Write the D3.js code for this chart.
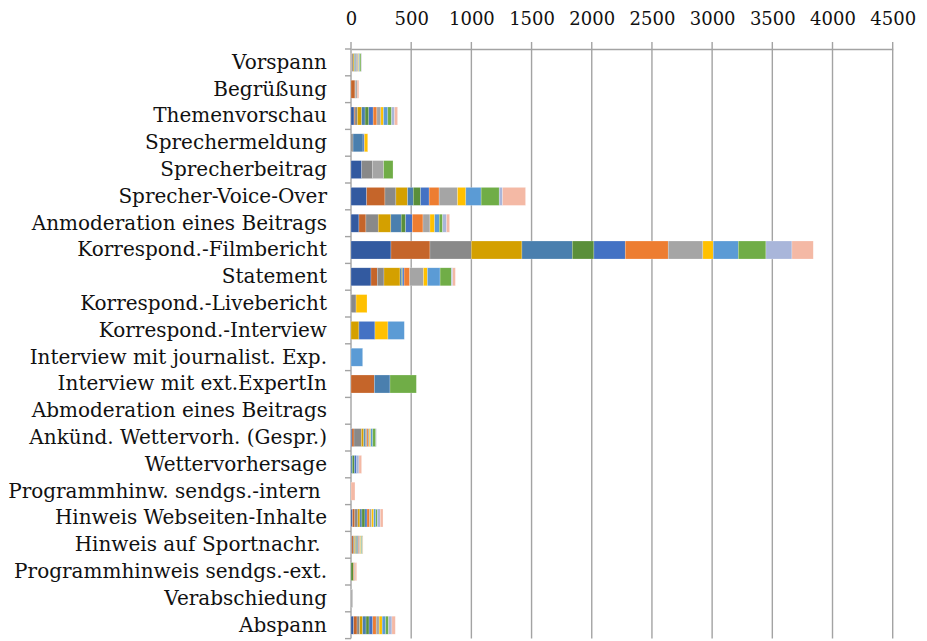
<!DOCTYPE html>
<html>
<head>
<meta charset="utf-8">
<script src="https://cdn.jsdelivr.net/npm/d3@7"></script>
<style>
  body { margin: 0; background: #fff; }
  text { font-family: "DejaVu Serif", serif; }
</style>
</head>
<body>
<div id="chart"></div>
<script>
const width = 927,
  height = 641,
  margin = { top: 49, bottom: 2.4, left: 351, right: 34.3 };

const categories = [
  "Vorspann", "Begrüßung", "Themenvorschau", "Sprechermeldung", "Sprecherbeitrag",
  "Sprecher-Voice-Over", "Anmoderation eines Beitrags", "Korrespond.-Filmbericht",
  "Statement", "Korrespond.-Livebericht", "Korrespond.-Interview",
  "Interview mit journalist. Exp.", "Interview mit ext.ExpertIn",
  "Abmoderation eines Beitrags", "Ankünd. Wettervorh. (Gespr.)", "Wettervorhersage",
  "Programmhinw. sendgs.-intern ", "Hinweis Webseiten-Inhalte", "Hinweis auf Sportnachr. ",
  "Programmhinweis sendgs.-ext.", "Verabschiedung", "Abspann"
];

const seriesNames = ["S1", "S2", "S3", "S4", "S5", "S6", "S7", "S8", "S9", "S10", "S11", "S12", "S13", "S14"];

const seriesColors = [
  "#335aa0", "#c5652a", "#898989", "#d4a000", "#4a7fae", "#5a8f3a", "#4472c4",
  "#ed7d31", "#a5a5a5", "#ffc000", "#5b9bd5", "#70ad47", "#a9b6da", "#f4b9a5"
];

// one row per category, one value per series
const values = [
  [4, 4, 10, 10, 6, 5, 8, 4, 8, 6, 8, 10, 6, 1],
  [0, 33, 6, 0, 0, 0, 0, 0, 12, 0, 0, 0, 0, 14],
  [25, 8, 20, 36, 28, 31, 36, 31, 33, 22, 36, 31, 25, 25],
  [0, 0, 17, 0, 83, 0, 11, 0, 0, 28, 0, 0, 0, 0],
  [89, 0, 91, 0, 0, 0, 0, 0, 91, 0, 0, 78, 0, 0],
  [130, 152, 91, 97, 47, 61, 71, 83, 153, 69, 127, 150, 28, 191],
  [66, 58, 102, 105, 86, 37, 55, 89, 58, 39, 38, 28, 33, 25],
  [332, 324, 343, 421, 418, 180, 260, 357, 288, 86, 208, 230, 216, 177],
  [166, 52, 56, 133, 12, 8, 14, 47, 114, 33, 105, 94, 11, 22],
  [0, 0, 42, 0, 0, 0, 0, 0, 0, 91, 0, 0, 0, 0],
  [0, 0, 0, 66, 0, 0, 133, 0, 0, 108, 136, 0, 0, 0],
  [0, 0, 0, 0, 0, 0, 0, 0, 0, 0, 97, 0, 0, 0],
  [0, 194, 0, 0, 130, 0, 0, 0, 0, 0, 0, 219, 0, 0],
  [0, 0, 0, 0, 0, 0, 0, 0, 0, 0, 0, 0, 0, 0],
  [8, 17, 61, 20, 11, 5, 8, 12, 10, 12, 17, 25, 5, 0],
  [0, 0, 0, 0, 11, 17, 19, 0, 0, 0, 0, 0, 19, 22],
  [0, 0, 0, 0, 0, 0, 0, 0, 0, 0, 0, 0, 0, 33],
  [12, 20, 25, 17, 17, 25, 17, 22, 17, 17, 17, 12, 25, 23],
  [6, 12, 10, 10, 8, 8, 8, 8, 6, 6, 6, 8, 0, 4],
  [0, 0, 0, 0, 0, 20, 0, 8, 6, 0, 0, 0, 0, 13],
  [0, 0, 0, 0, 0, 0, 0, 0, 14, 0, 0, 0, 0, 0],
  [22, 28, 22, 25, 28, 25, 31, 28, 25, 25, 28, 25, 28, 28]
];

const xTicks = [0, 500, 1000, 1500, 2000, 2500, 3000, 3500, 4000, 4500];

const rows = categories.map((c, i) => {
  const row = { category: c };
  seriesNames.forEach((s, j) => (row[s] = values[i][j]));
  return row;
});

const innerW = width - margin.left - margin.right,
  innerH = height - margin.top - margin.bottom;

const svg = d3.select("#chart")
  .append("svg")
  .attr("width", width)
  .attr("height", height);

const g = svg.append("g").attr("transform", `translate(${margin.left},${margin.top})`);

const x = d3.scaleLinear().domain([0, 4500]).range([0, innerW]);
const y = d3.scaleBand().domain(categories).range([0, innerH]).paddingInner(0.328).paddingOuter(0.164);
const color = d3.scaleOrdinal().domain(seriesNames).range(seriesColors);

const gridColor = "#a3a3a3";

// gridlines
g.append("g")
  .selectAll("line")
  .data(xTicks)
  .join("line")
  .attr("x1", d => x(d)).attr("x2", d => x(d))
  .attr("y1", -7).attr("y2", innerH)
  .attr("stroke", gridColor)
  .attr("stroke-width", 1.4);

// top axis
const xAxis = g.append("g")
  .call(d3.axisTop(x).tickValues(xTicks).tickSize(0).tickPadding(24).tickFormat(d3.format("d")));
xAxis.select(".domain").attr("stroke", gridColor).attr("stroke-width", 1.4);
xAxis.selectAll("text").attr("font-size", 18).attr("fill", "#111").attr("font-family", "DejaVu Serif");

// category boundary ticks
const step = y.step(), off = (step - y.bandwidth()) / 2;
g.append("g")
  .selectAll("line")
  .data(categories.concat([null]))
  .join("line")
  .attr("x1", -6).attr("x2", 0)
  .attr("y1", d => (d ? y(d) - off : innerH))
  .attr("y2", d => (d ? y(d) - off : innerH))
  .attr("stroke", gridColor)
  .attr("stroke-width", 1.4);

// stacked bars
const stacked = d3.stack().keys(seriesNames)(rows);

g.append("g")
  .selectAll("g")
  .data(stacked)
  .join("g")
  .attr("fill", d => color(d.key))
  .selectAll("rect")
  .data(d => d.filter(p => p[1] - p[0] > 0))
  .join("rect")
  .attr("x", d => x(d[0]))
  .attr("y", d => y(d.data.category))
  .attr("width", d => x(d[1]) - x(d[0]))
  .attr("height", y.bandwidth())
  .attr("stroke", "#fff")
  .attr("stroke-opacity", 0.45)
  .attr("stroke-width", 0.5);

// category labels
const yAxis = g.append("g")
  .call(d3.axisLeft(y).tickSize(0).tickPadding(24));
yAxis.select(".domain").remove();
yAxis.selectAll("text")
  .attr("font-size", 20)
  .attr("fill", "#111")
  .attr("font-family", "DejaVu Serif")
  .style("white-space", "pre");
</script>
</body>
</html>
